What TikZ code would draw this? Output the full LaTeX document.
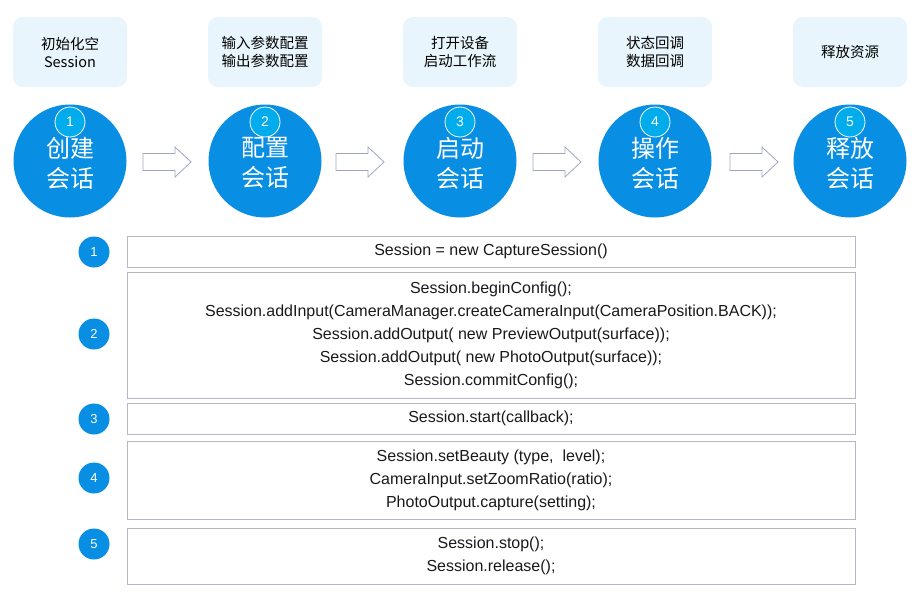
\documentclass[tikz,border=0pt]{standalone}
\usepackage{fontspec}
\setmainfont{Liberation Sans}
\newfontfamily\cjk{Noto Sans CJK SC}
\usetikzlibrary{calc}
\definecolor{topboxfill}{RGB}{232,245,253}
\definecolor{bigblue}{RGB}{8,142,226}
\definecolor{numblue}{RGB}{0,172,236}
\definecolor{codeborder}{RGB}{182,182,198}
\definecolor{arrowedge}{RGB}{160,166,194}
\begin{document}
\begin{tikzpicture}[x=1pt,y=-1pt,
  topbox/.style={rectangle, rounded corners=10pt, fill=topboxfill, minimum width=114pt, minimum height=70pt, inner sep=0pt, align=center, font=\cjk\fontsize{14.5}{18}\selectfont},
  bigcircle/.style={circle, fill=bigblue, minimum size=113pt, inner sep=0pt},
  bigtext/.style={inner sep=0pt, text=white, align=center, font=\cjk\fontsize{24}{30}\selectfont},
  numsmall/.style={circle, fill=numblue, draw=white, line width=0.8pt, minimum size=30pt, inner sep=0pt, text=white, font=\fontsize{14}{14}\selectfont},
  numbottom/.style={circle, fill=bigblue, minimum size=31pt, inner sep=0pt, text=white, font=\fontsize{13}{13}\selectfont},
  codebox/.style={rectangle, draw=codeborder, line width=0.8pt, minimum width=728pt, inner sep=0pt, align=center, text=black!90, font=\fontsize{16}{23}\selectfont},
  blockarr/.pic={\draw[arrowedge, fill=white, line width=0.8pt] (-24,-8.5) -- (8,-8.5) -- (8,-15) -- (24,0) -- (8,15) -- (8,8.5) -- (-24,8.5) -- cycle;}
]
\useasboundingbox (0,0) rectangle (921,597);

% top boxes
\node[topbox] (t1) at (70,52) {初始化空\\Session};
\node[topbox] (t2) at (265,52) {输入参数配置\\输出参数配置};
\node[topbox] (t3) at (460,52) {打开设备\\启动工作流};
\node[topbox] (t4) at (655,52) {状态回调\\数据回调};
\node[topbox] (t5) at (850,52) {释放资源};

% big circles
\node[bigcircle] (c1) at (70,161) {};
\node[bigcircle] (c2) at (265,161) {};
\node[bigcircle] (c3) at (460,161) {};
\node[bigcircle] (c4) at (655,161) {};
\node[bigcircle] (c5) at (850,161) {};
\node[bigtext] (l1) at ($(c1.center)+(0,2)$) {创建\\会话};
\node[bigtext] (l2) at ($(c2.center)+(0,2)$) {配置\\会话};
\node[bigtext] (l3) at ($(c3.center)+(0,2)$) {启动\\会话};
\node[bigtext] (l4) at ($(c4.center)+(0,2)$) {操作\\会话};
\node[bigtext] (l5) at ($(c5.center)+(0,2)$) {释放\\会话};

% small numbers on circles
\node[numsmall] (s1) at (70,122) {1};
\node[numsmall] (s2) at (265,122) {2};
\node[numsmall] (s3) at (460,122) {3};
\node[numsmall] (s4) at (655,122) {4};
\node[numsmall] (s5) at (850,122) {5};

% block arrows
\pic at (167,162) {blockarr};
\pic at (360,162) {blockarr};
\pic at (557,162) {blockarr};
\pic at (754,162) {blockarr};

% code boxes
\node[codebox, minimum height=31pt] (b1) at (491,251.5) {Session = new CaptureSession()};
\node[codebox, minimum height=126pt] (b2) at (491,335) {Session.beginConfig();\\Session.addInput(CameraManager.createCameraInput(CameraPosition.BACK));\\Session.addOutput( new PreviewOutput(surface));\\Session.addOutput( new PhotoOutput(surface));\\Session.commitConfig();};
\node[codebox, minimum height=31pt] (b3) at (491,418.5) {Session.start(callback);};
\node[codebox, minimum height=78pt] (b4) at (491,480) {Session.setBeauty (type,\ \ level);\\CameraInput.setZoomRatio(ratio);\\PhotoOutput.capture(setting);};
\node[codebox, minimum height=56pt] (b5) at (491,556) {Session.stop();\\Session.release();};

% bottom numbers
\node[numbottom] (m1) at (94,252) {1};
\node[numbottom] (m2) at (94,334) {2};
\node[numbottom] (m3) at (94,419) {3};
\node[numbottom] (m4) at (94,478) {4};
\node[numbottom] (m5) at (94,544) {5};
\end{tikzpicture}
\end{document}
